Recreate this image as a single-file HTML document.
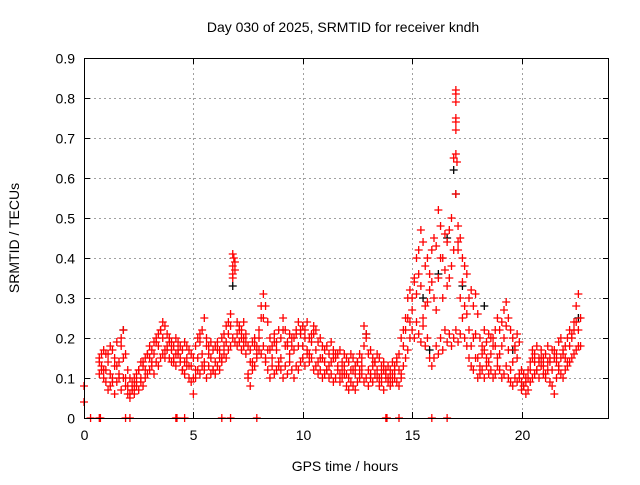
<!DOCTYPE html>
<html><head><meta charset="utf-8"><style>
body{margin:0;background:#fff}
svg text{font-family:"Liberation Sans",sans-serif;font-size:14px;fill:#000}
</style></head><body>
<svg id="chart" width="640" height="480" xmlns="http://www.w3.org/2000/svg">
<rect width="640" height="480" fill="#fff"/>
<text x="343" y="32" text-anchor="middle">Day 030 of 2025, SRMTID for receiver kndh</text>
<text transform="translate(19,238) rotate(-90)" text-anchor="middle">SRMTID / TECUs</text>
<text x="345" y="471" text-anchor="middle">GPS time / hours</text>
<g id="grid"></g><g id="axes"></g><g id="marks"></g>
<rect x="84.5" y="58.5" width="524" height="360" fill="none" stroke="#000"/>
</svg>
<script>
const xTicks=[0,5,10,15,20];
const yTicks=[0,0.1,0.2,0.3,0.4,0.5,0.6,0.7,0.8,0.9];
const yTickLabels=["0","0.1","0.2","0.3","0.4","0.5","0.6","0.7","0.8","0.9"];
const loStart=0.7;
const loVals=[.11,.12,.10,
.09,.07,.08,.10,.06,.09,.11,.07,.10,.08,
.06,.05,.07,.06,.08,.07,.09,.08,.10,.11,
.12,.13,.11,.14,.13,.15,.16,.15,.17,.15,
.14,.15,.13,.16,.14,.12,.11,.13,.10,.09,
.06,.10,.12,.11,.13,.12,.10,.13,.11,.12,
.11,.13,.12,.14,.16,.15,.17,.18,.20,.19,
.18,.19,.17,.18,.16,.10,.08,.12,.13,.15,
.17,.16,.18,.15,.12,.10,.13,.11,.12,.14,
.12,.10,.13,.11,.14,.12,.10,.13,.12,.14,
.15,.13,.16,.14,.15,.12,.13,.11,.12,.10,
.11,.12,.10,.11,.09,.10,.12,.09,.10,.11,
.08,.07,.09,.08,.07,.09,.10,.11,.09,.10,
.08,.10,.09,.11,.10,.08,.09,.07,.10,.09,
.08,.09,.10,.09,.08,.11,.13,.15,.17,.20,
.22,.20,.24,.21,.19,.23,.18,.20,.15,.13,
.15,.18,.16,.20,.17,.22,.19,.21,.18,.20,
.22,.19,.21,.25,.20,.18,.15,.13,.12,.15,
.10,.11,.12,.10,.13,.11,.12,.10,.11,.13,
.12,.10,.11,.13,.10,.09,.08,.10,.09,.11,
.07,.08,.06,.07,.09,.10,.11,.12,.10,.13,
.11,.10,.12,.09,.08,.06,.10,.12,.11,.10,
.12,.13,.14,.15,.16,.17,.18,.18];
const hiVals=[.15,.16,.17,
.16,.14,.18,.17,.15,.19,.14,.18,.22,.16,
.12,.10,.09,.10,.11,.12,.14,.13,.15,.16,
.18,.17,.19,.20,.21,.22,.24,.23,.21,.20,
.19,.18,.20,.19,.18,.17,.19,.18,.17,.16,
.15,.18,.20,.19,.22,.25,.20,.18,.19,.17,
.18,.19,.17,.20,.21,.23,.24,.26,.41,.39,
.24,.23,.22,.24,.21,.18,.17,.19,.20,.16,
.22,.25,.31,.28,.24,.20,.18,.21,.19,.22,
.20,.25,.22,.19,.21,.18,.20,.22,.24,.21,
.23,.22,.24,.20,.21,.23,.22,.19,.20,.18,
.17,.18,.16,.19,.17,.15,.16,.17,.14,.16,
.15,.14,.16,.15,.13,.14,.16,.15,.23,.21,
.16,.17,.15,.14,.16,.15,.13,.14,.12,.13,
.12,.14,.13,.15,.16,.20,.22,.25,.30,.32,
.30,.35,.40,.42,.47,.44,.38,.40,.36,.42,
.45,.43,.52,.48,.40,.46,.44,.47,.50,.65,
.82,.42,.45,.40,.38,.36,.30,.32,.28,.31,
.26,.20,.18,.22,.19,.21,.20,.18,.22,.25,
.22,.24,.27,.29,.25,.22,.20,.18,.21,.19,
.12,.11,.10,.12,.14,.17,.16,.18,.15,.17,
.15,.16,.18,.14,.17,.15,.16,.19,.20,.17,
.18,.20,.22,.21,.24,.28,.31,.25];
const midStart=0.8;
const midVals=[.13,.12,.11,.13,.10,.15,
.08,.07,.09,.10,.12,
.15,.16,.18,.20,.18,
.17,.16,.15,.14,.13,
.10,.15,.16,.18,.15,
.14,.15,.18,.21,.35,
.21,.20,.19,.14,.18,
.20,.25,.17,.15,.17,
.15,.18,.16,.17,.18,
.18,.17,.19,.17,.15,
.14,.13,.15,.13,.12,
.11,.12,.11,.12,.18,
.12,.13,.12,.11,.11,
.10,.12,.12,.18,.25,
.27,.31,.33,.28,.32,
.30,.35,.30,.33,.38,
.74,.30,.28,.22,.20,
.15,.16,.15,.16,.18,
.16,.20,.17,.14,.15,
.09,.09,.12,.14,.14,
.13,.14,.12,.14,.15,
.15,.18,.22,.22];
const mid2Start=0.7;
const mid2Vals=[.14,.12,.16,.09,.13,.20,
.10,.06,.08,.12,.14,
.16,.14,.19,.22,.17,
.19,.14,.17,.12,.15,
.13,.12,.21,.14,.16,
.12,.17,.15,.19,.23,
.37,.22,.20,.11,.14,
.18,.28,.14,.17,.19,
.13,.22,.18,.20,.21,
.22,.20,.16,.21,.14,
.15,.12,.14,.16,.11,
.13,.10,.12,.14,.13,
.20,.11,.14,.10,.12,
.10,.11,.14,.10,.22,
.24,.34,.36,.25,.29,
.34,.27,.40,.37,.35,
.42,.44,.34,.26,.18,
.21,.13,.17,.14,.20,
.15,.18,.23,.12,.17,
.10,.08,.10,.15,.12,
.15,.11,.15,.17,.13,
.16,.14,.20,.24];
const extraT=[0,0,6.8,6.8,6.85,17.0,17.0,17.0,17.0,17.0,17.05,17.0,17.1,0.7,0.75,4.2,4.25,4.6,6.3,13.8,13.85,14.4,15.9,0.3,1.9,2.1,6.7,7.9,16.6];
const extraV=[.08,.04,.36,.38,.40,.81,.79,.75,.72,.66,.64,.56,.48,0,0,0,0,0,0,0,0,0,0,0,0,0,0,0,0];
const blackT=[17.0,16.6,15.5,16.2,17.3,18.3,19.6,22.6,6.8,1.8,12.9,15.8,16.9];
const blackV=[.56,.45,.30,.36,.33,.28,.17,.25,.33,.22,.21,.17,.62];

const X0=84,X1=609,Y0=418,Y1=58,XMAX=24,YMAX=0.9;
const xs=t=>X0+(t/XMAX)*(X1-X0);
const ys=v=>Y0-(v/YMAX)*(Y0-Y1);
const NS="http://www.w3.org/2000/svg";
function mk(tag,attrs,parent){const e=document.createElementNS(NS,tag);for(const k in attrs)e.setAttribute(k,attrs[k]);parent.appendChild(e);return e;}
const grid=document.getElementById('grid'),axes=document.getElementById('axes'),marks=document.getElementById('marks');
yTicks.forEach((v,i)=>{const y=Math.round(ys(v))+0.5;
 if(v>0&&v<YMAX){const g=mk('line',{x1:X0,x2:X1,y1:y,y2:y,stroke:'#a0a0a0','stroke-dasharray':'2,3'},grid);
 }
 const t=mk('line',{x1:X0,x2:X0+6,y1:y,y2:y,stroke:'#000'},axes);
 const t2=mk('line',{x1:X1-6,x2:X1,y1:y,y2:y,stroke:'#000'},axes);
 const l=mk('text',{x:X0-9,y:y+5,'text-anchor':'end'},axes);l.textContent=yTickLabels[i];
 });
xTicks.forEach(v=>{const x=Math.round(xs(v))+0.5;
 if(v>0){const g=mk('line',{x1:x,x2:x,y1:Y1,y2:Y0,stroke:'#a0a0a0','stroke-dasharray':'2,3'},grid);
 }
 const t=mk('line',{x1:x,x2:x,y1:Y0,y2:Y0-6,stroke:'#000'},axes);
 const t2=mk('line',{x1:x,x2:x,y1:Y1,y2:Y1+6,stroke:'#000'},axes);
 const l=mk('text',{x:x,y:Y0+22,'text-anchor':'middle'},axes);l.textContent=String(v);
 });
function cross(t,v,color,name){const x=xs(t),y=ys(v);
 const p=mk('path',{d:`M${x-4},${y}H${x+4}M${x},${y-4}V${y+4}`,stroke:color,'stroke-width':1.3,fill:'none'},marks);
 
 }
blackT.forEach((t,i)=>cross(t,blackV[i],'#000000','srmtid-point-black'));
loVals.forEach((v,i)=>cross(loStart+0.1*i,v,'#ff0000','srmtid-point'));
hiVals.forEach((v,i)=>cross(loStart+0.1*i,v,'#ff0000','srmtid-point'));
midVals.forEach((v,i)=>cross(midStart+0.2*i,v,'#ff0000','srmtid-point'));
mid2Vals.forEach((v,i)=>cross(mid2Start+0.2*i,v,'#ff0000','srmtid-point'));
extraT.forEach((t,i)=>cross(t,extraV[i],'#ff0000','srmtid-point'));
</script>
</body></html>
